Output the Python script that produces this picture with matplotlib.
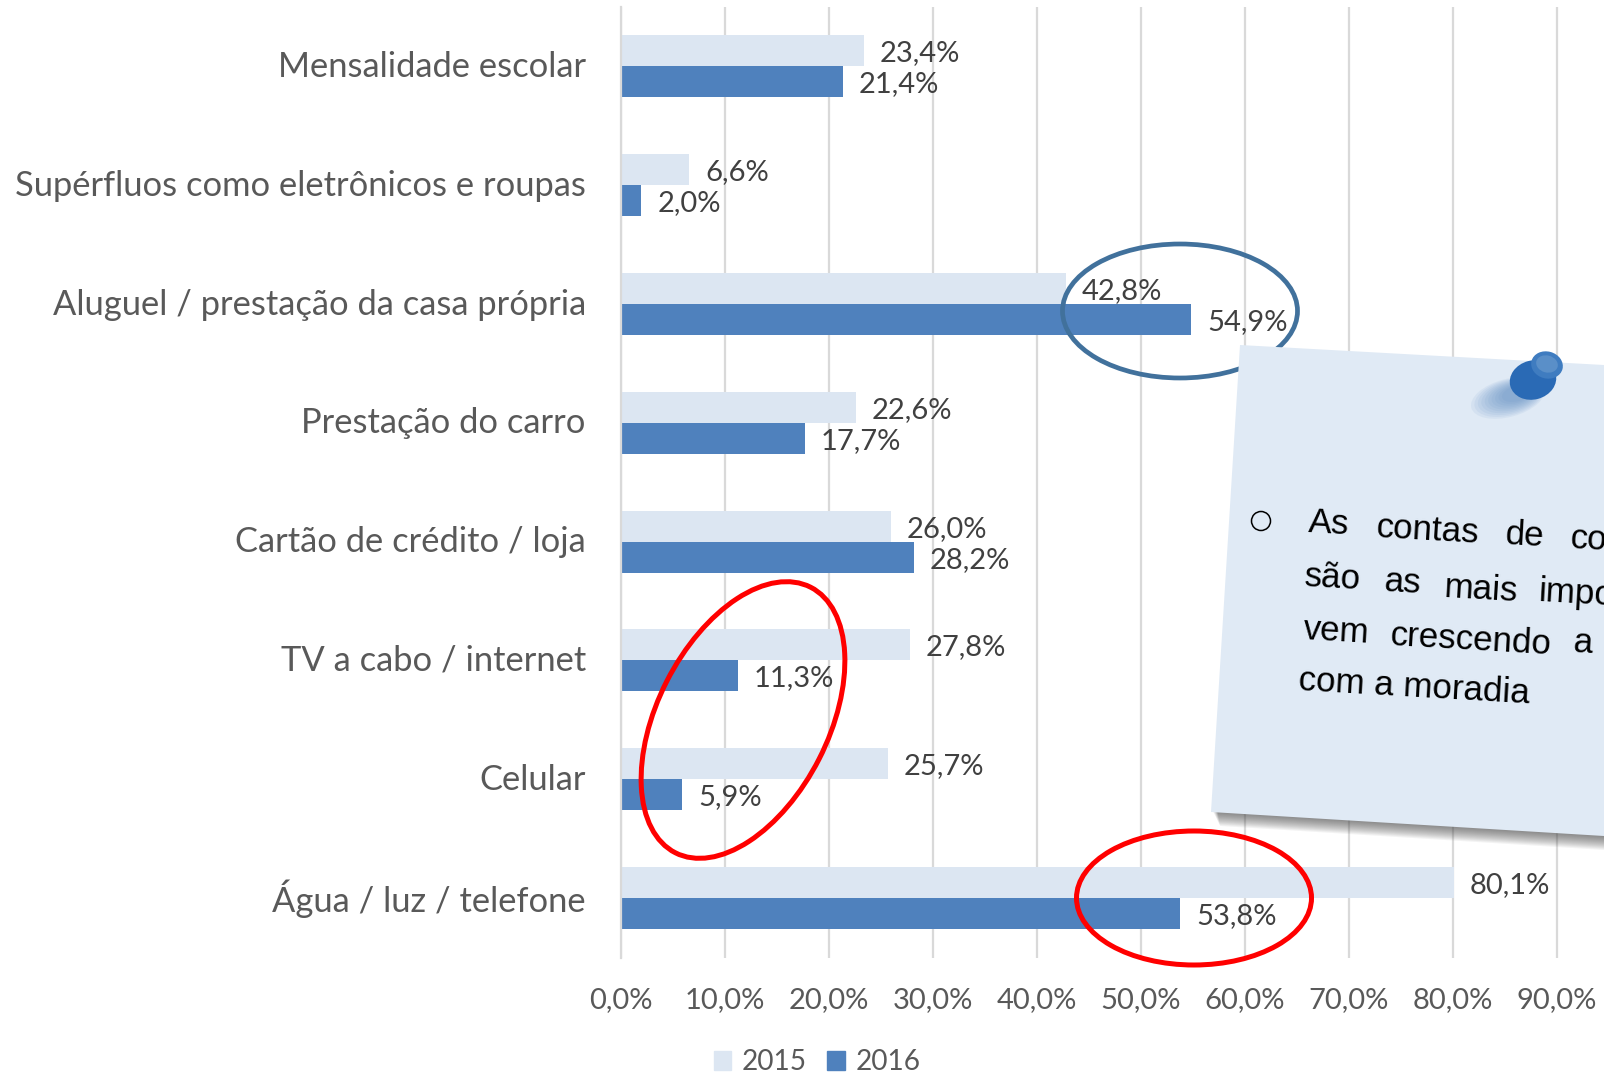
import matplotlib
matplotlib.use("Agg")
import matplotlib.pyplot as plt
import matplotlib.transforms as mtrans
import numpy as np
from matplotlib.patches import Ellipse, Polygon, Patch

categories = ["Mensalidade escolar", "Supérfluos como eletrônicos e roupas",
              "Aluguel / prestação da casa própria", "Prestação do carro",
              "Cartão de crédito / loja", "TV a cabo / internet", "Celular",
              "Água / luz / telefone"]
v2015 = [23.4, 6.6, 42.8, 22.6, 26.0, 27.8, 25.7, 80.1]
v2016 = [21.4, 2.0, 54.9, 17.7, 28.2, 11.3, 5.9, 53.8]
xticks = [0, 10, 20, 30, 40, 50, 60, 70, 80, 90]

W, H = 1604, 1074
C15 = "#dce6f2"
C16 = "#4f81bd"
plt.rcParams['font.family'] = ['Lato', 'DejaVu Sans']

def pct(v):
    return f"{v:.1f}%".replace(".", ",")

fig = plt.figure(figsize=(W / 100, H / 100), dpi=100)
ax = fig.add_axes([620.5 / W, 1 - 957.5 / H, (W - 620.5) / W, 950.5 / H])

y = np.arange(len(categories))
h = 31 / 118.8
b1 = ax.barh(y - h / 2, v2015, h, color=C15, zorder=2)
b2 = ax.barh(y + h / 2, v2016, h, color=C16, zorder=2)
for vals, pos in [(v2015, y - h / 2), (v2016, y + h / 2)]:
    for v, p in zip(vals, pos):
        ax.annotate(pct(v), (v, p), xytext=(11.5, 0), textcoords="offset points",
                    fontsize=21, color="#404040", va="center_baseline", ha="left")

ax.set_xlim(0, (W - 620.5) / 10.4)
ax.set_ylim(len(categories) - 0.5, -0.5)
ax.set_yticks(y, categories, fontsize=24.8, color="#595959", va="center_baseline")
ax.set_xticks(xticks, [pct(v) for v in xticks], fontsize=21, color="#595959")
ax.tick_params(length=0)
ax.tick_params(axis="y", pad=25)
ax.tick_params(axis="x", pad=21)
ax.grid(axis="x", color="#d9d9d9", lw=1.6, zorder=0)
ax.set_axisbelow(True)
for s in ["top", "right", "bottom"]:
    ax.spines[s].set_visible(False)
ax.spines["left"].set_color("#d9d9d9")
ax.spines["left"].set_linewidth(1.6)

# category labels sit slightly above the bar centre
up = mtrans.ScaledTranslation(0, 2.5 / 100, fig.dpi_scale_trans)
for lab in ax.get_yticklabels():
    lab.set_transform(lab.get_transform() + up)

fig.legend(handles=[Patch(color=C15, label="2015"), Patch(color=C16, label="2016")],
           ncol=2, frameon=False, loc="center", bbox_to_anchor=(817 / W, 1 - 1062.5 / H),
           fontsize=20.2, labelcolor="#595959", handlelength=0.64, handleheight=0.64,
           handletextpad=0.38, columnspacing=0.7)

# overlay in pixel coordinates for the hand-drawn callouts and the note
ov = fig.add_axes([0, 0, 1, 1], zorder=5)
ov.set_xlim(0, W)
ov.set_ylim(H, 0)
ov.axis("off")
ov.patch.set_alpha(0)

ov.add_patch(Ellipse((1180, 311), 235, 134, fill=False, ec="#41719c", lw=3.4))
ov.add_patch(Ellipse((743, 720), 171, 298, angle=27, fill=False, ec="#ff0000", lw=3.6))
ov.add_patch(Ellipse((1194, 898), 235, 134, fill=False, ec="#ff0000", lw=3.6))

# note shadow
for i in range(14, 0, -1):
    ov.add_patch(Polygon([(1216, 800), (1604, 823), (1604, 836 + i), (1213 + i * 0.5, 812 + i)],
                         fc="#444444", ec="none", alpha=0.06))
ov.add_patch(Polygon([(1240, 345), (1604, 365), (1604, 836), (1211, 812)], fc="#e0eaf5", ec="none"))

# pin
for i in range(10):
    ov.add_patch(Ellipse((1508 + i, 398 - i * 0.5), 76 - i * 5, 38 - i * 2.5, angle=-15,
                         fc="#4f81bd", ec="none", alpha=0.08))
ov.add_patch(Ellipse((1533, 380), 47, 39, angle=-15, fc="#2a6ab5", ec="none"))
ov.add_patch(Ellipse((1547, 365), 32, 27, angle=15, fc="#3f7cc0", ec="none"))
ov.add_patch(Ellipse((1547, 364), 22, 17, angle=15, fc="#5a8fc8", ec="none"))

# note text, justified line by line
note_lines = [
    [("As", 1308, 523), ("contas", 1376, 528), ("de", 1505, 535), ("consumo", 1570, 539)],
    [("são", 1305, 577), ("as", 1384, 582), ("mais", 1444, 588), ("importantes", 1539, 592)],
    [("vem", 1303, 630), ("crescendo", 1390, 636), ("a", 1573, 643)],
    [("com a moradia", 1299, 681)],
]
for line in note_lines:
    for word in line:
        ov.text(word[1], word[2], word[0], fontsize=25.2, family=['Liberation Sans'],
                color="black", rotation=-3.3, rotation_mode="anchor", ha="left", va="center", clip_on=True)
ov.add_patch(Ellipse((1261, 521), 19, 19, fill=False, ec="black", lw=1.1))

fig.savefig("out.png", dpi=100)
